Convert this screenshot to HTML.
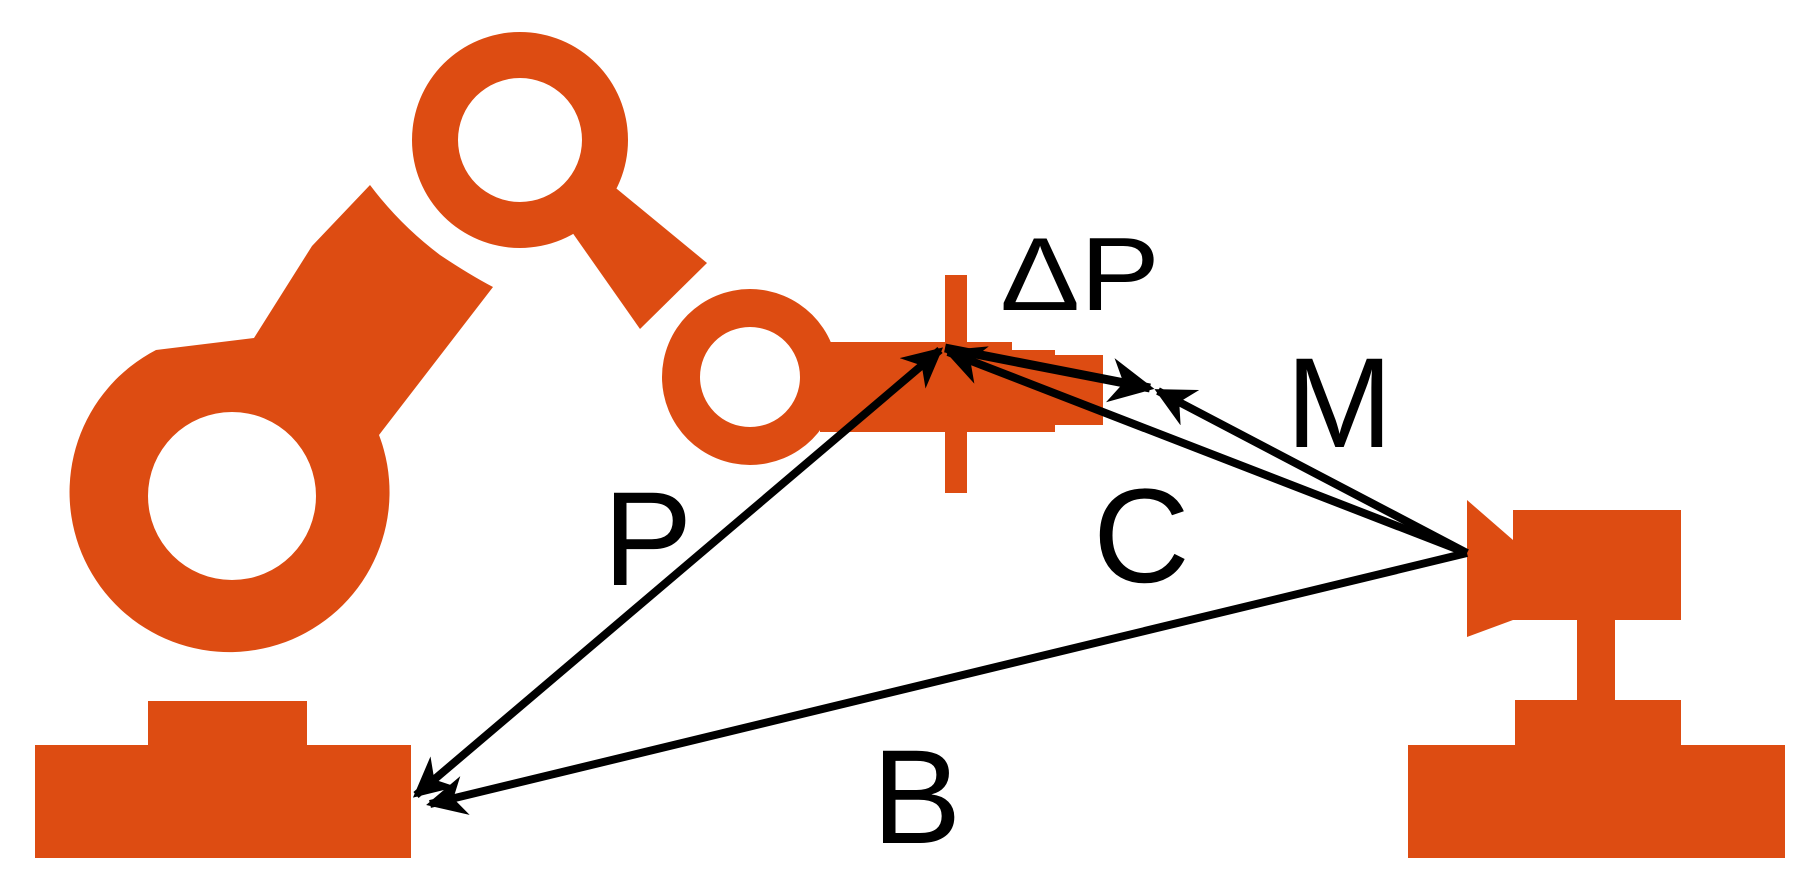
<!DOCTYPE html>
<html><head><meta charset="utf-8"><style>
html,body{margin:0;padding:0;background:#fff;width:1808px;height:890px;overflow:hidden}
svg{display:block}
text{font-family:"Liberation Sans",sans-serif;fill:#000}
</style></head><body>
<svg width="1808" height="890" viewBox="0 0 1808 890" xmlns="http://www.w3.org/2000/svg">
<defs>
<marker id="ah" viewBox="0 0 10 10" refX="9" refY="5" markerWidth="5" markerHeight="5" markerUnits="strokeWidth" orient="auto-start-reverse">
<path d="M0,0 L10,5 L0,10 L3,5 z" fill="#000"/></marker>
</defs>
<g fill="#DD4C12">
<rect x="35" y="745" width="376" height="113"/>
<rect x="148" y="701" width="159" height="46"/>
<path fill-rule="evenodd" d="M156,350 L254,338 L312,246 L370,185 Q400,225 440,255 Q470,275 493,287 L379,435 A160,160 0 1 1 156,350 Z M316,496 A84,84 0 1 0 148,496 A84,84 0 1 0 316,496 Z"/>
<path fill-rule="evenodd" d="M628,140 A108,108 0 1 0 412,140 A108,108 0 1 0 628,140 Z M582,140 A62,62 0 1 0 458,140 A62,62 0 1 0 582,140 Z"/>
<polygon points="560,215 600,175 707,263 640,329"/>
<path fill-rule="evenodd" d="M838,377 A88,88 0 1 0 662,377 A88,88 0 1 0 838,377 Z M800,377 A50,50 0 1 0 700,377 A50,50 0 1 0 800,377 Z"/>
<polygon points="820,342 1012,342 1012,350 1055,350 1055,355 1103,355 1103,425 1055,425 1055,432 820,432"/>
<rect x="945" y="275" width="22" height="218"/>
<polygon points="1467,500 1513,540 1513,620 1467,637"/>
<rect x="1513" y="510" width="168" height="110"/>
<rect x="1577" y="615" width="38" height="90"/>
<rect x="1515" y="700" width="166" height="46"/>
<rect x="1408" y="745" width="377" height="113"/>
</g>
<g stroke="#000" stroke-width="8" fill="none">
<line x1="416" y1="795" x2="940" y2="350" marker-start="url(#ah)" marker-end="url(#ah)"/>
<line x1="1467" y1="553" x2="430" y2="804" marker-end="url(#ah)"/>
<line x1="1467" y1="553" x2="948" y2="352" marker-end="url(#ah)"/>
<line x1="1467" y1="553" x2="1158" y2="391" marker-end="url(#ah)"/>
<line x1="945" y1="348" x2="1150" y2="388" marker-end="url(#ah)" stroke-width="9"/>
</g>
<text x="1000" y="310" font-size="104" textLength="160" lengthAdjust="spacingAndGlyphs">ΔP</text>
<text x="1286" y="447" font-size="128">M</text>
<text x="603" y="585" font-size="134">P</text>
<text x="1093" y="582" font-size="134">C</text>
<text x="872" y="843" font-size="134">B</text>
</svg>
</body></html>
